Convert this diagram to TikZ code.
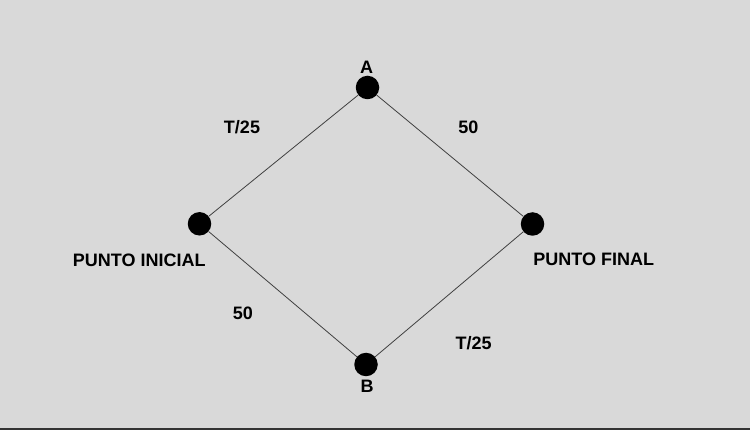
\documentclass[tikz,border=0pt]{standalone}
\usepackage{fontspec}
\setmainfont{Liberation Sans}
\begin{document}
\begin{tikzpicture}[x=1pt,y=-1pt,
  dot/.style={circle,fill=black,draw=none,minimum size=23.5pt,inner sep=0pt},
  lbl/.style={inner sep=0pt,text height=12.9pt,text depth=0pt,font=\fontsize{18}{21}\selectfont\bfseries,text=black},
  edge/.style={draw=black!75,line width=0.8pt}]
\fill[fill={rgb,255:red,217;green,217;blue,217}] (0,0) rectangle (750,430);
\useasboundingbox (0,0) rectangle (750,430);
\coordinate (bl) at (0,429);
\coordinate (br) at (750,429);
\draw[draw=black!80,line width=1.8pt] (bl) -- (br);
\node[dot] (A) at (367.5,87.5) {};
\node[dot] (P) at (199.5,223.8) {};
\node[dot] (F) at (532.5,224) {};
\node[dot] (B) at (366,364.5) {};
\draw[edge] (P) -- (A);
\draw[edge] (A) -- (F);
\draw[edge] (P) -- (B);
\draw[edge] (B) -- (F);
\node[lbl] (la) at (366.7,66.7) {A};
\node[lbl] (lb) at (367,386.3) {B};
\node[lbl] (t1) at (242,126.7) {T/25};
\node[lbl] (f1) at (468.3,126.7) {50};
\node[lbl] (pi) at (139.2,259.7) {PUNTO INICIAL};
\node[lbl] (pf) at (593.7,259.5) {PUNTO FINAL};
\node[lbl] (f2) at (243,313) {50};
\node[lbl] (t2) at (473.7,343) {T/25};
\end{tikzpicture}
\end{document}
